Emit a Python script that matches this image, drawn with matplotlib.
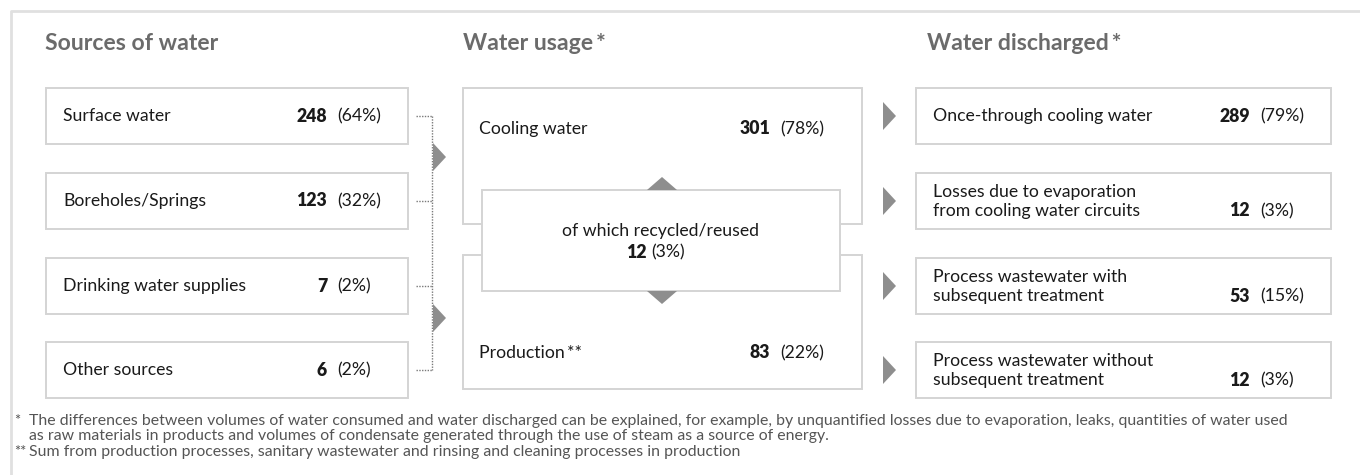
import matplotlib.pyplot as plt
from matplotlib.patches import Rectangle, Polygon

plt.rcParams['font.family'] = ['Lato', 'DejaVu Sans']

# data (million m3)
source_labels = ["Surface water", "Boreholes/Springs", "Drinking water supplies", "Other sources"]
source_values = [248, 123, 7, 6]
source_pcts = [64, 32, 2, 2]

usage_labels = ["Cooling water", "Production\u2009**"]
usage_values = [301, 83]
usage_pcts = [78, 22]

recycled_label = "of which recycled/reused"
recycled_value = 12
recycled_pct = 3

discharge_labels = ["Once-through cooling water",
                    "Losses due to evaporation\nfrom cooling water circuits",
                    "Process wastewater with\nsubsequent treatment",
                    "Process wastewater without\nsubsequent treatment"]
discharge_values = [289, 12, 53, 12]
discharge_pcts = [79, 3, 15, 3]

headers = ["Sources of water", "Water usage\u2009*", "Water discharged\u2009*"]
footnotes = [
    ("*", "The differences between volumes of water consumed and water discharged can be explained, for example, by unquantified losses due to evaporation, leaks, quantities of water used"),
    ("", "as raw materials in products and volumes of condensate generated through the use of steam as a source of energy."),
    ("**", "Sum from production processes, sanitary wastewater and rinsing and cleaning processes in production"),
]

BORDER = '#d4d4d4'
TXT = '#1a1a1a'
GREY = '#8e8e8e'
HEAD = '#6b6b6b'
FS = 12.7

fig = plt.figure(figsize=(13.6, 4.75), dpi=100)
ax = fig.add_axes([0, 0, 1, 1])
ax.set_xlim(0, 1360)
ax.set_ylim(475, 0)
ax.axis('off')


def box(x0, y0, x1, y1, z=1):
    ax.add_patch(Rectangle((x0, y0), x1 - x0, y1 - y0, fc='white', ec=BORDER, lw=1.4, zorder=z))


def value(xr, y, v, p):
    ax.text(xr, y, str(v), ha='right', va='center', fontsize=FS, fontweight='heavy', color=TXT, zorder=5)
    ax.text(xr + 10, y, f"({p}%)", ha='left', va='center', fontsize=FS, color=TXT, zorder=5)


def arrow(x, y, w=13, h=14, direction='right'):
    if direction == 'right':
        pts = [(x, y - h), (x + w, y), (x, y + h)]
    elif direction == 'up':
        pts = [(x - w, y), (x, y - h), (x + w, y)]
    else:
        pts = [(x - w, y), (x, y + h), (x + w, y)]
    ax.add_patch(Polygon(pts, closed=True, fc=GREY, ec='none', zorder=4))


# outer frame
ax.plot([11, 11, 1360], [475, 11, 11], color='#e0e0e0', lw=2, zorder=0)
# title, cut off at the very top like in the source
ax.text(150, -5, "Water flows in our plants (in million m³)", ha='left', va='baseline',
        fontsize=15, color='#2a64a8', zorder=1)

# headers
for x, h in zip([45, 463, 927], headers):
    ax.text(x, 43, h, ha='left', va='center', fontsize=16.6, fontweight='bold', color=HEAD)

row_tops = [88, 173, 258, 342]
row_h = 56
centers = [t + row_h / 2 for t in row_tops]

# sources
for t, c, lab, v, p in zip(row_tops, centers, source_labels, source_values, source_pcts):
    box(46, t, 408, t + row_h)
    ax.text(63, c, lab, ha='left', va='center', fontsize=FS, color=TXT)
    value(327, c, v, p)
    ax.plot([416, 432], [c, c], color='#7a7a7a', lw=1, ls=(0, (1, 1)))
ax.plot([432, 432], [centers[0], centers[-1]], color='#7a7a7a', lw=1, ls=(0, (1, 1)))
arrow(433, 157)
arrow(433, 318)

# usage
box(463, 88, 862, 224)
box(463, 255, 862, 389)
ax.text(479, 129, usage_labels[0], ha='left', va='center', fontsize=FS, color=TXT)
value(770, 129, usage_values[0], usage_pcts[0])
ax.text(479, 353, usage_labels[1], ha='left', va='center', fontsize=FS, color=TXT)
value(770, 353, usage_values[1], usage_pcts[1])

box(482, 190, 840, 291, z=3)
arrow(662, 190, w=15, h=13, direction='up')
arrow(662, 291, w=15, h=13, direction='down')
ax.text(661, 231, recycled_label, ha='center', va='center', fontsize=FS, color=TXT, zorder=5)
ax.text(647, 252, str(recycled_value), ha='right', va='center', fontsize=FS, fontweight='heavy', color=TXT, zorder=5)
ax.text(651, 252, f"({recycled_pct}%)", ha='left', va='center', fontsize=FS, color=TXT, zorder=5)

# discharged
for t, c, lab, v, p in zip(row_tops, centers, discharge_labels, discharge_values, discharge_pcts):
    box(916, t, 1331, t + row_h)
    arrow(883, c)
    if "\n" in lab:
        l1, l2 = lab.split("\n")
        ax.text(933, c - 9, l1, ha='left', va='center', fontsize=FS, color=TXT)
        ax.text(933, c + 10, l2, ha='left', va='center', fontsize=FS, color=TXT)
        value(1250, c + 10, v, p)
    else:
        ax.text(933, c, lab, ha='left', va='center', fontsize=FS, color=TXT)
        value(1250, c, v, p)

# footnotes
for y, (mark, txt) in zip([421, 436, 452], footnotes):
    ax.text(14, y, mark, ha='left', va='center', fontsize=10.5, color='#555555')
    ax.text(29, y, txt, ha='left', va='center', fontsize=11.4, color='#555555')

fig.savefig('out.png', dpi=100)
